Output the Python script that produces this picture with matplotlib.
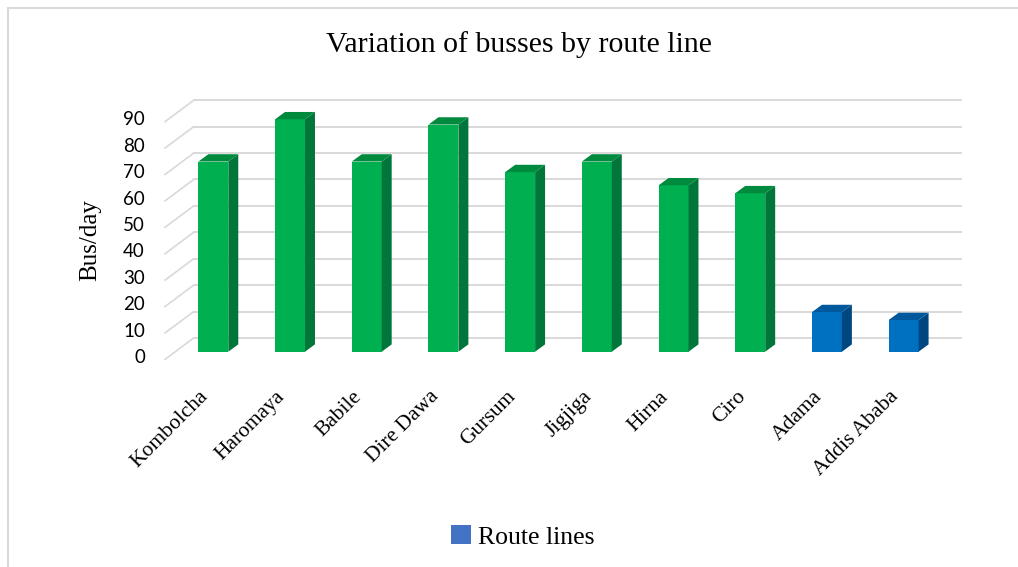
import matplotlib.pyplot as plt
from matplotlib.patches import Polygon, Rectangle, Patch

routes = ["Kombolcha", "Haromaya", "Babile", "Dire Dawa", "Gursum",
          "Jigjiga", "Hirna", "Ciro", "Adama", "Addis Ababa"]
buses = [72, 88, 72, 86, 68, 72, 63, 60, 15, 12]
is_east = [True, True, True, True, True, True, True, True, False, False]
y_ticks = list(range(0, 100, 10))

W, H = 1018, 567
serif = "Liberation Serif"

fig = plt.figure(figsize=(W / 100, H / 100), dpi=100)
fig.patch.set_facecolor("white")

# outer chart border (only top/left visible in the crop)
fig.add_artist(Rectangle((8 / W, -0.1), 1.2, 1 - 8 / H + 0.1,
                         transform=fig.transFigure, fill=False,
                         edgecolor="#D9D9D9", lw=1.5))

# axes = plane where the front faces of the bars sit
ax = fig.add_axes([175 / W, 1 - 351.7 / H, (942 - 175) / W, (351.7 - 114) / H])
ax.set_xlim(-0.5, 9.5)
ax.set_ylim(0, 90)
ax.axis("off")

# pseudo-3d offsets in data units
back_dx, back_dy = 0.244, 5.2     # back wall
front_dx, front_dy = -0.10, -2.5  # front edge (labels)
bar_dx, bar_dy = 0.13, 2.77       # bar depth
bw = 0.39

# gridlines on back wall + left diagonal
for v in y_ticks:
    ax.plot([-0.5 + back_dx, 9.5 + back_dx], [v + back_dy, v + back_dy],
            color="#D9D9D9", lw=1.4, clip_on=False, zorder=1)
    ax.plot([-0.5 + front_dx - 0.03, -0.5 + back_dx],
            [v + front_dy - 0.4, v + back_dy],
            color="#D9D9D9", lw=1.2, clip_on=False, zorder=1)
    ax.text(-0.891, v + front_dy + 0.3, str(v), ha="right", va="center",
            fontsize=13.5, family="Lato", color="#000000")

# bars
face = ["#00B050" if e else "#0070C0" for e in is_east]
side = ["#00763A" if e else "#00467F" for e in is_east]
top = ["#008A3E" if e else "#00589C" for e in is_east]
xs = list(range(len(routes)))
ax.bar(xs, buses, width=bw, color=face, zorder=3, clip_on=False)
for x, h, sc, tc in zip(xs, buses, side, top):
    r = x + bw / 2
    l = x - bw / 2
    ax.add_patch(Polygon([(r, 0), (r + bar_dx, bar_dy), (r + bar_dx, h + bar_dy), (r, h)],
                         closed=True, facecolor=sc, edgecolor="none", zorder=3, clip_on=False))
    ax.add_patch(Polygon([(l, h), (r, h), (r + bar_dx, h + bar_dy), (l + bar_dx, h + bar_dy)],
                         closed=True, facecolor=tc, edgecolor="none", zorder=3, clip_on=False))

# category labels
for x, name in zip(xs, routes):
    ax.text(x - 0.1, -16.0, name, rotation=45, rotation_mode="anchor",
            ha="right", va="center", fontsize=15.5, family=serif)

fig.text(518.5 / W, 1 - 45 / H, "Variation of busses by route line",
         ha="center", va="center", fontsize=21.5, family=serif)
fig.text(90 / W, 1 - 240 / H, "Bus/day", rotation=90,
         ha="center", va="center", fontsize=18, family=serif)

fig.legend(handles=[Patch(facecolor="#4472C4", label="Route lines")],
           loc="center", bbox_to_anchor=(523 / W, 1 - 537 / H),
           frameon=False, handlelength=0.75, handleheight=0.75,
           handletextpad=0.3, prop={"family": serif, "size": 18.5})

fig.savefig("out.png", dpi=100, facecolor="white")
